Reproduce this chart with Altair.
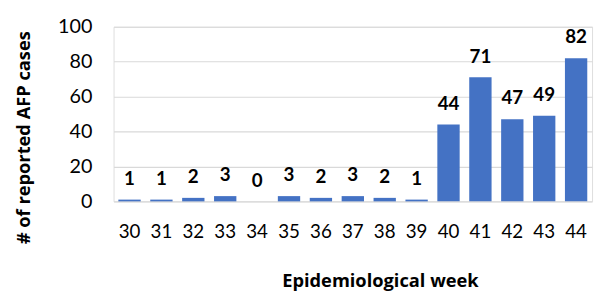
import altair as alt
import pandas as pd

weeks = ["30", "31", "32", "33", "34", "35", "36", "37", "38", "39", "40", "41", "42", "43", "44"]
cases = [1, 1, 2, 3, 0, 3, 2, 3, 2, 1, 44, 71, 47, 49, 82]
y_ticks = [0, 20, 40, 60, 80, 100]

df = pd.DataFrame({"week": weeks, "cases": cases})

FONT = "Lato"
TFONT = "Open Sans"

x_enc = alt.X(
    "week:N",
    sort=weeks,
    scale=alt.Scale(paddingInner=0.3, paddingOuter=0.15),
    axis=alt.Axis(
        title="Epidemiological week",
        labelAngle=0,
        labelFont=FONT,
        labelFontSize=19,
        labelColor="#000000",
        labelPadding=22,
        ticks=False,
        domain=False,
        grid=False,
        titleFont=TFONT,
        titleFontSize=18.5,
        titleFontWeight="bold",
        titleColor="#000000",
        titleX=270,
        titleY=86,
        titleBaseline="alphabetic",
        titleAlign="center",
    ),
)

y_enc = alt.Y(
    "cases:Q",
    scale=alt.Scale(domain=[0, 100], nice=False),
    axis=alt.Axis(
        title="# of reported AFP cases",
        values=y_ticks,
        labelOverlap=False,
        labelFont=FONT,
        labelFontSize=20,
        labelColor="#000000",
        labelPadding=22,
        ticks=False,
        domain=False,
        domainColor="#ffffff",
        grid=True,
        gridColor="#d9d9d9",
        gridWidth=1.2,
        titleFont=TFONT,
        titleFontSize=18.5,
        titleFontWeight="bold",
        titleColor="#000000",
        titleAngle=270,
        titleX=-85,
        titleY=112,
        titleAlign="center",
        titleBaseline="alphabetic",
    ),
)

base = alt.Chart(df).encode(x=x_enc, y=y_enc)

bars = base.mark_bar(color="#4472C4")

labels = base.mark_text(
    font=FONT, fontSize=19, fontWeight="bold", color="#000000", dy=-15, baseline="alphabetic"
).encode(text="cases:Q")

chart = (
    alt.layer(bars, labels)
    .properties(
        width=485,
        height=177,
        autosize=alt.AutoSizeParams(type="none"),
        padding={"left": 107, "top": 17, "right": 4, "bottom": 98},
    )
    .configure_view(strokeWidth=0, stroke="#ffffff", strokeOpacity=0)
    .configure_axisY(domain=False, domainColor="#ffffff")
    .configure_axisX(grid=False, domain=False, gridColor="#ffffff")
    .configure(background="#ffffff")
)

chart.save("out.html", embed_options={"renderer": "svg", "actions": False})
